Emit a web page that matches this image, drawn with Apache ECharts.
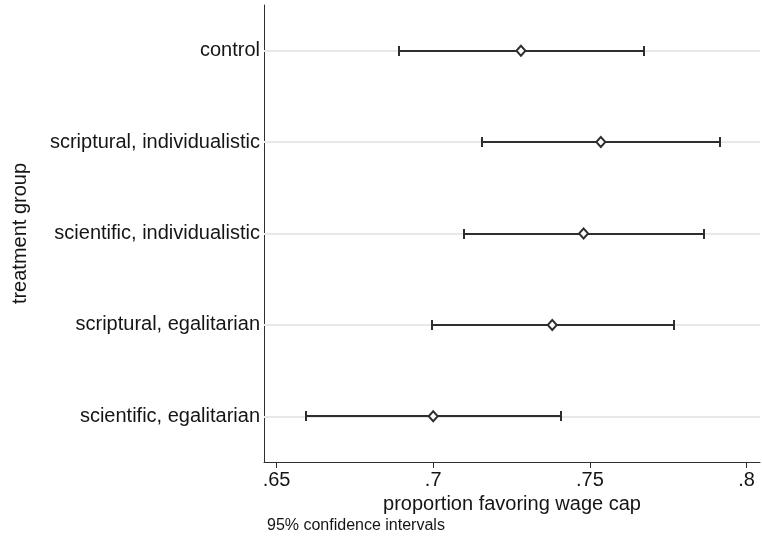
<!DOCTYPE html>
<html>
<head>
<meta charset="utf-8">
<script src="https://cdn.jsdelivr.net/npm/echarts@6/dist/echarts.min.js"></script>
<style>
  html, body { margin: 0; padding: 0; background: #fff; }
  #chart { width: 762px; height: 541px; }
</style>
</head>
<body>
<div id="chart"></div>
<script>
// Treatment groups, top to bottom
const categories = [
  'control',
  'scriptural, individualistic',
  'scientific, individualistic',
  'scriptural, egalitarian',
  'scientific, egalitarian'
];
// Estimated proportion favoring the wage cap, with 95% CI bounds
const means = [0.728, 0.7535, 0.748, 0.738, 0.700];
const lower = [0.689, 0.7157, 0.7097, 0.6997, 0.6594];
const upper = [0.7672, 0.7915, 0.7864, 0.7767, 0.7408];
// Tick positions on the proportion axis
const xTicks = [0.65, 0.7, 0.75, 0.8];

const FONT = '"Liberation Sans", Arial, Helvetica, sans-serif';
const INK = '#2e2e2e';
const TEXT = '#151515';

const chart = echarts.init(document.getElementById('chart'), null, { renderer: 'canvas' });

const option = {
  animation: false,
  backgroundColor: '#ffffff',
  textStyle: { fontFamily: FONT },
  title: {
    text: '95% confidence intervals',
    left: 267,
    top: 518,
    padding: 0,
    textStyle: { fontFamily: FONT, fontSize: 16, fontWeight: 'normal', color: TEXT }
  },
  grid: {
    left: 264, right: 2, top: 5, bottom: 79,
    containLabel: false,
    outerBoundsMode: 'none'
  },
  xAxis: {
    type: 'value',
    min: 0.646,
    max: 0.8043,
    name: 'proportion favoring wage cap',
    nameLocation: 'middle',
    nameGap: 28,
    nameTextStyle: { fontFamily: FONT, fontSize: 20, color: TEXT },
    axisLine: { show: true, lineStyle: { color: INK, width: 1 } },
    axisTick: { show: true, length: 6, customValues: xTicks, lineStyle: { color: INK, width: 1 } },
    axisLabel: {
      customValues: xTicks,
      margin: 8,
      fontFamily: FONT,
      fontSize: 20,
      color: TEXT,
      formatter: v => String(+v.toFixed(2)).replace(/^0/, '')
    },
    splitLine: { show: false }
  },
  yAxis: {
    type: 'category',
    data: categories,
    inverse: true,
    boundaryGap: true,
    name: 'treatment group',
    nameLocation: 'middle',
    nameRotate: 90,
    nameGap: 234,
    nameTextStyle: { fontFamily: FONT, fontSize: 20, color: TEXT },
    axisLine: { show: true, lineStyle: { color: INK, width: 1 } },
    axisTick: { show: false },
    axisLabel: { margin: 4, fontFamily: FONT, fontSize: 20, color: TEXT },
    splitLine: { show: false }
  },
  series: [
    {
      // light horizontal guides at each group
      type: 'line',
      data: [],
      z: 1,
      silent: true,
      markLine: {
        z: 1,
        silent: true,
        symbol: ['none', 'none'],
        label: { show: false },
        lineStyle: { color: '#e8e8e8', width: 2, type: 'solid' },
        data: categories.map(c => ({ yAxis: c }))
      }
    },
    {
      // confidence interval whiskers with end caps
      type: 'custom',
      z: 3,
      encode: { x: [1, 2], y: 0 },
      data: categories.map((c, i) => [i, lower[i], upper[i]]),
      renderItem: function (params, api) {
        const yi = api.value(0);
        const p1 = api.coord([api.value(1), yi]);
        const p2 = api.coord([api.value(2), yi]);
        const y = Math.round(p1[1]);
        const x1 = Math.round(p1[0]);
        const x2 = Math.round(p2[0]);
        const cap = 5;
        const style = { stroke: INK, lineWidth: 2, fill: null };
        return {
          type: 'group',
          children: [
            { type: 'line', shape: { x1: x1, y1: y, x2: x2, y2: y }, style: style },
            { type: 'line', shape: { x1: x1, y1: y - cap, x2: x1, y2: y + cap }, style: style },
            { type: 'line', shape: { x1: x2, y1: y - cap, x2: x2, y2: y + cap }, style: style }
          ]
        };
      }
    },
    {
      // point estimates
      type: 'scatter',
      z: 4,
      symbol: 'diamond',
      symbolSize: [9, 10],
      itemStyle: { color: '#ffffff', borderColor: INK, borderWidth: 2, opacity: 1 },
      data: means.map((m, i) => [m, i])
    }
  ]
};

chart.setOption(option);
</script>
</body>
</html>
